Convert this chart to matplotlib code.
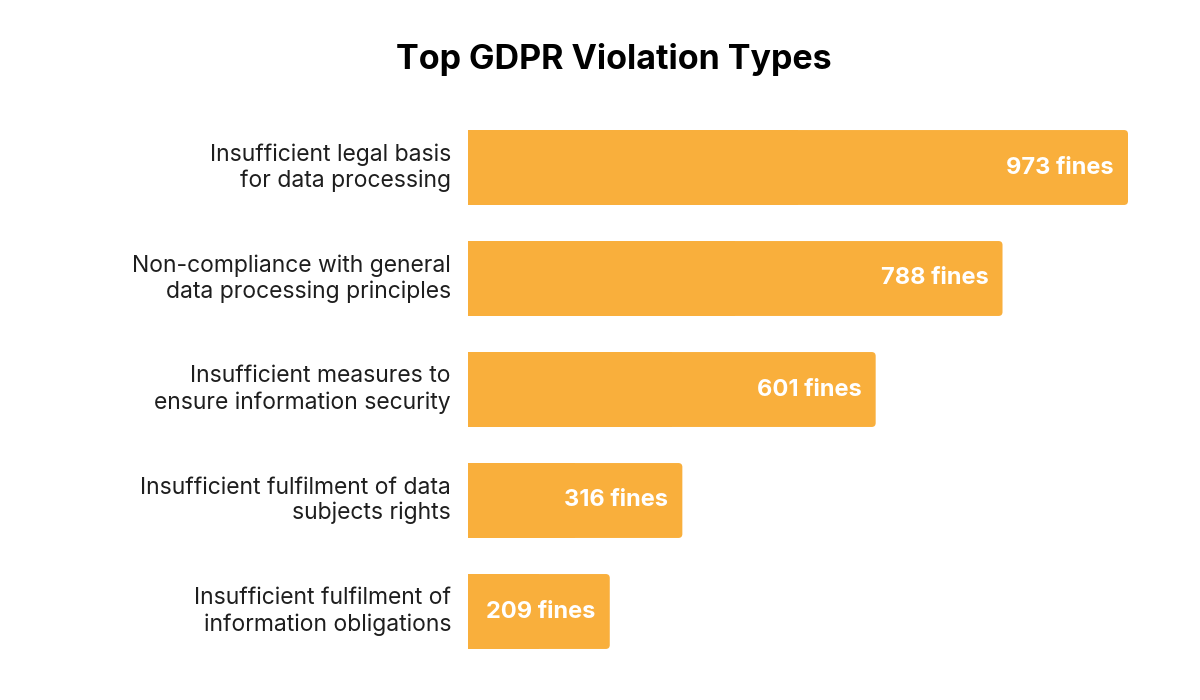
import matplotlib.pyplot as plt
from matplotlib.patches import FancyBboxPatch, Rectangle

CATEGORIES = [
    "Insufficient legal basis\nfor data processing",
    "Non-compliance with general\ndata processing principles",
    "Insufficient measures to\nensure information security",
    "Insufficient fulfilment of data\nsubjects rights",
    "Insufficient fulfilment of\ninformation obligations",
]
FINES = [973, 788, 601, 316, 209]
TITLE = "Top GDPR Violation Types"

BAR_COLOR = "#F9AF3C"
TEXT_COLOR = "#1E1E1E"
FONT = ["Inter", "DejaVu Sans"]

W, H = 1200, 700
fig = plt.figure(figsize=(12, 7), dpi=100)
ax = fig.add_axes([468 / W, (H - 667) / H, 660 / W, 555 / H])
ax.set_xlim(0, max(FINES))
ax.set_ylim(len(FINES) - 0.5, -0.5)
ax.axis("off")

# units per pixel, used to keep the corner radius round
x_per_px = max(FINES) / 660
y_per_px = len(FINES) / 555
radius = 4 * x_per_px

bars = ax.barh(range(len(FINES)), FINES, height=0.675, color="none")
for bar, label, value in zip(bars, CATEGORIES, FINES):
    x0, y0 = bar.get_x(), bar.get_y()
    w, h = bar.get_width(), bar.get_height()
    ax.add_patch(FancyBboxPatch(
        (x0, y0), w, h,
        boxstyle=f"round,pad=0,rounding_size={radius}",
        mutation_aspect=y_per_px / x_per_px,
        facecolor=BAR_COLOR, edgecolor="none",
    ))
    # square off the left corners
    ax.add_patch(Rectangle((x0, y0), w / 2, h, facecolor=BAR_COLOR, edgecolor="none"))
    yc = y0 + h / 2
    ax.text(w - 14 * x_per_px, yc, f"{value} fines", ha="right", va="center",
            color="white", fontsize=17, fontweight="bold", family=FONT)
    ax.text(-17 * x_per_px, yc, label, ha="right", va="center", color=TEXT_COLOR,
            fontsize=16.5, family=FONT, linespacing=1.2, clip_on=False)

fig.text(614 / W, 1 - 60 / H, TITLE, ha="center", va="center", fontsize=24.5,
         fontweight="bold", color="black", family=FONT)

fig.savefig("out.png", dpi=100, facecolor="white")
